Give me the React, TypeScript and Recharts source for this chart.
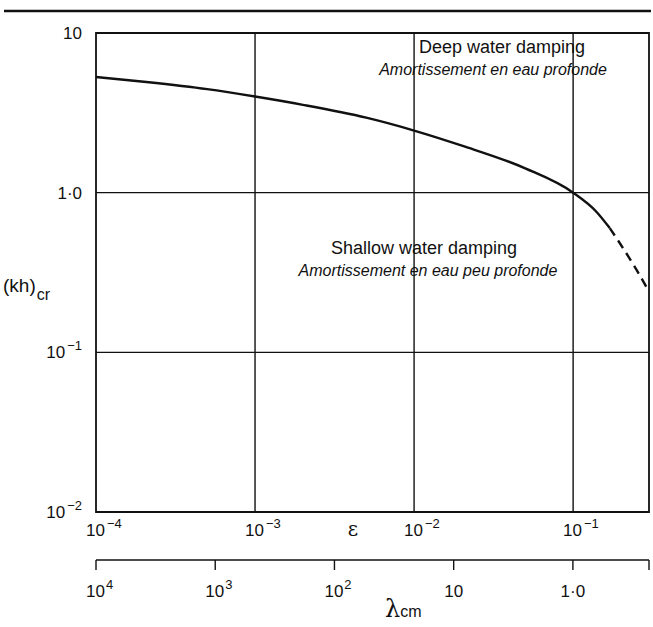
import React from "react";
import { LineChart, Line, XAxis, YAxis, ReferenceLine, ReferenceArea } from "recharts";

// ---- data ----
const epsSolid = [1e-4, 2e-4, 5e-4, 1e-3, 2e-3, 5e-3, 1e-2, 2e-2, 5e-2, 1e-1, 0.14, 0.17];
const khSolid = [5.3, 4.95, 4.45, 4.0, 3.55, 2.95, 2.45, 1.97, 1.42, 1.0, 0.76, 0.6];
const epsDashed = [0.17, 0.2, 0.25, 0.3];
const khDashed = [0.6, 0.47, 0.33, 0.24];

const epsDomain = [1e-4, 0.3];
const khDomain = [0.01, 10];
const lamDomain = [0.23, 1e4];

const epsTicks = [1e-4, 1e-3, 1e-2, 1e-1];
const epsTickExp = ["\u22124", "\u22123", "\u22122", "\u22121"];
const khTicks = [0.01, 0.1, 1, 10];
const khTickBase = ["10", "10", "1\u00b70", "10"];
const khTickExp = ["\u22122", "\u22121", "", ""];
const lamTicks = [1e4, 1e3, 1e2, 10, 1, 0.23];
const lamTickBase = ["10", "10", "10", "10", "1\u00b70", ""];
const lamTickExp = ["4", "3", "2", "", "", ""];

const epsGrid = [1e-3, 1e-2, 1e-1];
const khGrid = [0.1, 1];

const solidRows = epsSolid.map((e, i) => ({ eps: e, kh: khSolid[i] }));
const dashedRows = epsDashed.map((e, i) => ({ eps: e, kh: khDashed[i] }));
// rows that only carry the λ axis extent (no visible mark)
const lamRows = lamTicks.map((l) => ({ lam: l, kh: null }));

const FONT = "'Liberation Sans', Arial, sans-serif";
const INK = "#111";

const EpsTick = (props: any) => {
  const { x, y, index } = props;
  return (
    <text x={x - 10} y={y + 24} fontFamily={FONT} fontSize={17} fill={INK} textAnchor="start">
      <tspan>10</tspan>
      <tspan dx={2} dy={-8} fontSize={13}>{epsTickExp[index]}</tspan>
    </text>
  );
};

const LamTick = (props: any) => {
  const { x, y, index, payload } = props;
  const i = index != null ? index : lamTicks.indexOf(payload?.value);
  const base = lamTickBase[i];
  const exp = lamTickExp[i];
  if (!base) return null;
  return (
    <text x={exp ? x - 10 : x} y={y + 27} fontFamily={FONT} fontSize={17} fill={INK} textAnchor={exp ? "start" : "middle"}>
      <tspan>{base}</tspan>
      {exp ? <tspan dx={1} dy={-8} fontSize={13}>{exp}</tspan> : null}
    </text>
  );
};

const KhTick = (props: any) => {
  const { x, y, index } = props;
  const exp = khTickExp[index];
  return (
    <text x={x - 6} y={y + 6} fontFamily={FONT} fontSize={17} fill={INK} textAnchor="end">
      <tspan>{khTickBase[index]}</tspan>
      {exp ? <tspan dx={2} dy={-8} fontSize={13}>{exp}</tspan> : null}
    </text>
  );
};

export default function App() {
  return (
    <div style={{ position: "absolute", left: 0, top: 0, width: 653, height: 627, background: "#fff" }}>
      <LineChart width={653} height={627} margin={{ top: 33, right: 4, bottom: 0, left: 0 }}>
        <XAxis
          xAxisId="eps"
          dataKey="eps"
          type="number"
          scale="log"
          domain={epsDomain}
          ticks={epsTicks}
          interval={0}
          allowDataOverflow
          axisLine={false}
          tickLine={false}
          tickSize={0}
          tickMargin={0}
          height={48}
          tick={<EpsTick />}
        />
        <XAxis
          xAxisId="lam"
          dataKey="lam"
          type="number"
          scale="log"
          domain={lamDomain}
          reversed
          ticks={lamTicks}
          interval={0}
          allowDataOverflow
          axisLine={{ stroke: INK, strokeWidth: 1.6 }}
          tickLine={{ stroke: INK, strokeWidth: 1.4 }}
          tickSize={10}
          tickMargin={0}
          height={67}
          tick={<LamTick />}
        />
        <YAxis
          yAxisId="kh"
          type="number"
          scale="log"
          domain={khDomain}
          ticks={khTicks}
          interval={0}
          allowDataOverflow
          axisLine={false}
          tickLine={false}
          width={96}
          tick={<KhTick />}
        />
        <ReferenceArea
          xAxisId="eps"
          yAxisId="kh"
          x1={epsDomain[0]}
          x2={epsDomain[1]}
          y1={khDomain[0]}
          y2={khDomain[1]}
          fill="none"
          fillOpacity={0}
          stroke={INK}
          strokeWidth={1.8}
          ifOverflow="visible"
        />
        {epsGrid.map((v) => (
          <ReferenceLine key={"gx" + v} xAxisId="eps" yAxisId="kh" x={v} stroke={INK} strokeWidth={1.4} />
        ))}
        {khGrid.map((v) => (
          <ReferenceLine key={"gy" + v} xAxisId="eps" yAxisId="kh" y={v} stroke={INK} strokeWidth={1.4} />
        ))}
        <Line
          xAxisId="lam"
          yAxisId="kh"
          data={lamRows}
          dataKey="kh"
          stroke="none"
          dot={false}
          legendType="none"
          isAnimationActive={false}
        />
        <Line
          xAxisId="eps"
          yAxisId="kh"
          data={solidRows}
          dataKey="kh"
          type="monotone"
          stroke={INK}
          strokeWidth={2.4}
          dot={false}
          isAnimationActive={false}
        />
        <Line
          xAxisId="eps"
          yAxisId="kh"
          data={dashedRows}
          dataKey="kh"
          type="monotone"
          stroke={INK}
          strokeWidth={2.4}
          strokeDasharray="9 6"
          dot={false}
          isAnimationActive={false}
        />
        <line x1={4} y1={11} x2={651} y2={11} stroke={INK} strokeWidth={2.5} />
        <text x={502} y={53} fontFamily={FONT} fontSize={18} fill={INK} textAnchor="middle">Deep water damping</text>
        <text x={493} y={75} fontFamily={FONT} fontSize={16} fontStyle="italic" fill={INK} textAnchor="middle">Amortissement en eau profonde</text>
        <text x={424} y={254} fontFamily={FONT} fontSize={18} fill={INK} textAnchor="middle">Shallow water damping</text>
        <text x={428} y={276} fontFamily={FONT} fontSize={16} fontStyle="italic" fill={INK} textAnchor="middle">Amortissement en eau peu profonde</text>
        <text x={3} y={292} fontFamily={FONT} fontSize={19} fill={INK}>
          <tspan>(kh)</tspan>
          <tspan dx={1} dy={8} fontSize={16}>cr</tspan>
        </text>
        <text x={353} y={536} fontFamily="'DejaVu Serif', serif" fontSize={20} fill={INK} textAnchor="middle">ε</text>
        <text x={385} y={617} fontFamily={FONT} fill={INK}>
          <tspan fontFamily="'DejaVu Serif', serif" fontSize={24}>λ</tspan>
          <tspan fontSize={16}>cm</tspan>
        </text>
      </LineChart>
    </div>
  );
}
